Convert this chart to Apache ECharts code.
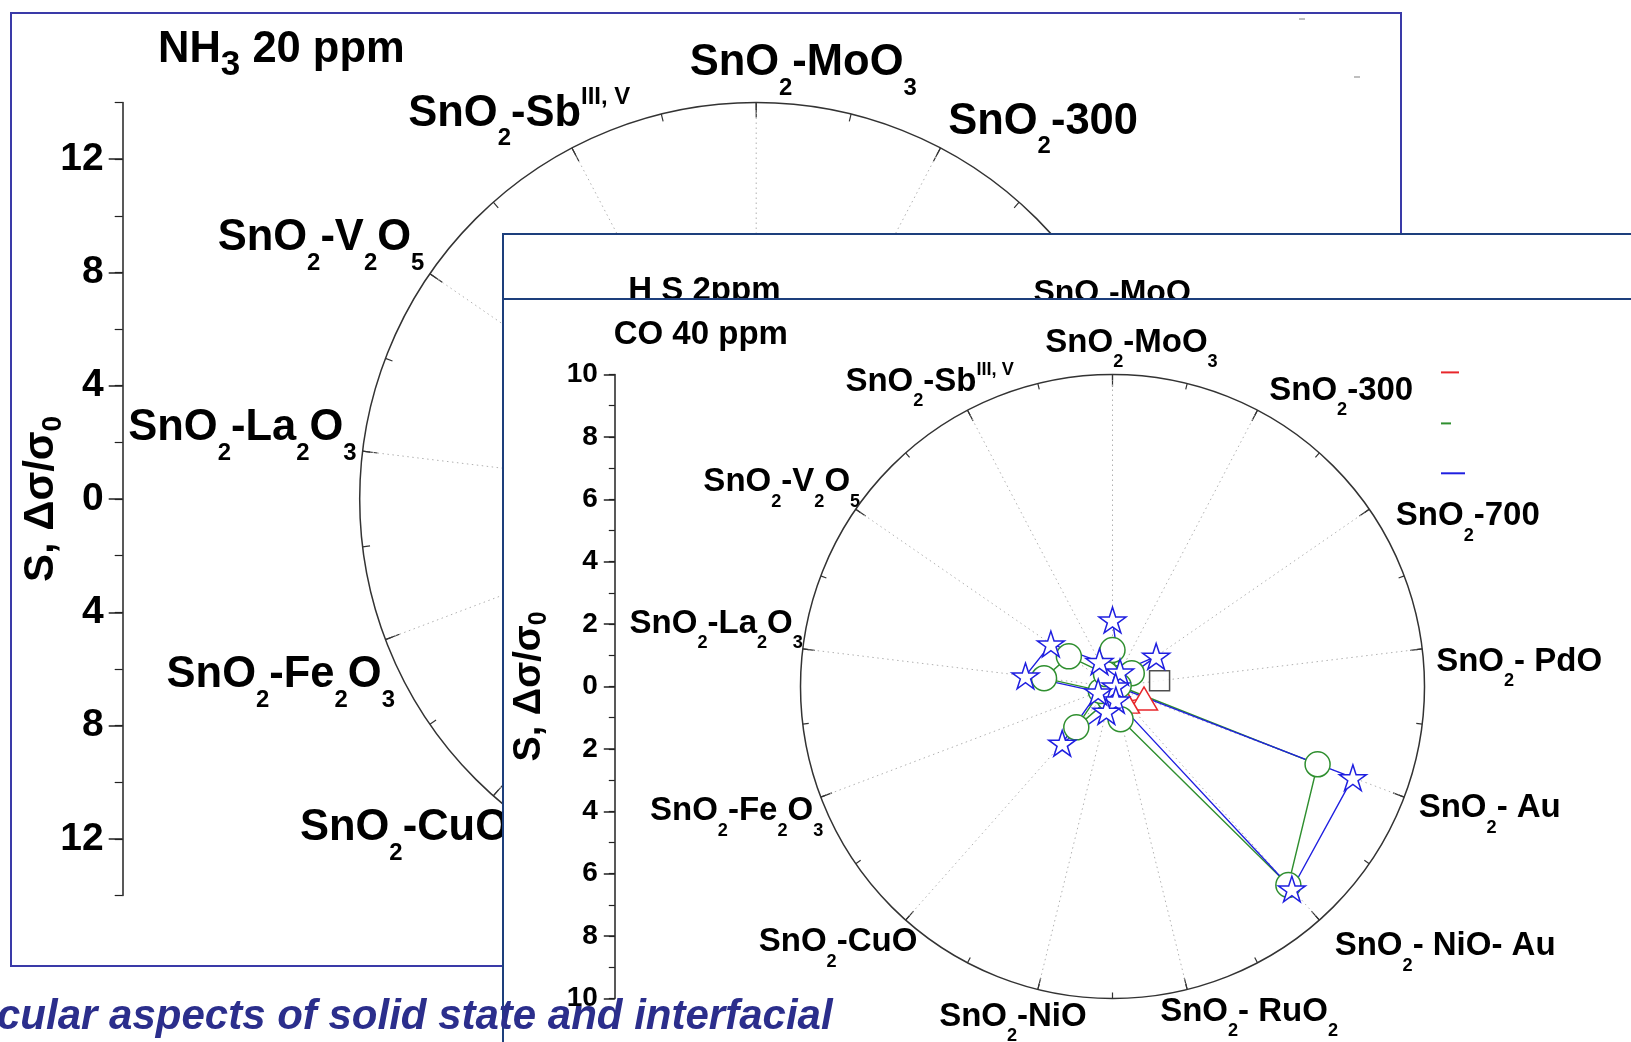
<!DOCTYPE html>
<html>
<head>
<meta charset="utf-8">
<title>SnO2 sensor response</title>
<script src="https://cdn.jsdelivr.net/npm/echarts@6.0.0/dist/echarts.min.js"></script>
<style>
  html, body { margin: 0; padding: 0; background: #fff; }
  body { position: relative; width: 1631px; height: 1042px; overflow: hidden; }
  .panel { position: absolute; background: #fff; }
  .frame { position: absolute; box-sizing: border-box; pointer-events: none; }
  #caption { position: absolute; left: -3px; top: 994px; margin: 0; white-space: nowrap;
    font: italic bold 42px/42px 'Liberation Sans', Arial, sans-serif; color: #2b2e8c; }
</style>
</head>
<body>
<div id="nh3" class="panel" style="left:10px;top:12px;width:1391px;height:954px"></div>
<div class="frame" style="left:10px;top:12px;width:1392px;height:955px;border:2px solid #3a3aa8"></div>
<div id="h2s" class="panel" style="left:502px;top:233px;width:1140px;height:820px"></div>
<div class="frame" style="left:502px;top:233px;width:1140px;height:820px;border:2px solid #1d3f7c"></div>
<div id="co" class="panel" style="left:502px;top:298px;width:1140px;height:760px"></div>
<div class="frame" style="left:502px;top:298px;width:1140px;height:760px;border:2px solid #1d3f7c"></div>
<div id="caption">cular aspects of solid state and interfacial</div>

<script>
const FONT = "'Liberation Sans', Arial, Helvetica, sans-serif";
const RED = '#e8262b', GREEN = '#2f8f2f', BLUE = '#1f1fe0', BLACK = '#222';

// Sample categories, clockwise from the top. "_x" marks a subscript, "^{..}" a superscript.
const categories = ['SnO_2-MoO_3', 'SnO_2-300', 'SnO_2-700', 'SnO_2-PdO', 'SnO_2-Au', 'SnO_2-NiO-Au',
  'SnO_2-RuO_2', 'SnO_2-NiO', 'SnO_2-CuO', 'SnO_2-Fe_2O_3', 'SnO_2-La_2O_3', 'SnO_2-V_2O_5', 'SnO_2-Sb^{III, V}'];
const coCategories = ['SnO_2-MoO_3', 'SnO_2-300', 'SnO_2-700', 'SnO_2- PdO', 'SnO_2- Au', 'SnO_2- NiO- Au',
  'SnO_2- RuO_2', 'SnO_2-NiO', 'SnO_2-CuO', 'SnO_2-Fe_2O_3', 'SnO_2-La_2O_3', 'SnO_2-V_2O_5', 'SnO_2-Sb^{III, V}'];

// CO 40 ppm: sensor response S = Δσ/σ0 for each sample (null = not measured)
const coSeriesNames = ['Series A', 'Series B', 'Series C', 'Series D'];
const coBlack = [null, null, null, 1.52, null, null, null, null, null, null, null, null, null];
const coRed   = [null, null, null, null, 1.08, 0.65, null, null, null, null, null, null, null];
const coGreen = [1.17, 0.30, 0.75, 0.20, 7.03, 8.50, 1.08, 0.40, 1.75, 0.40, 2.21, 1.70, 0.45];
const coBlue  = [2.13, 0.52, 1.70, 0.10, 8.24, 8.67, 0.45, 0.82, 2.43, 0.49, 2.81, 2.40, 0.90];

// Radial scales and tick labels of the S axes
const nh3Max = 14;
const nh3TickValues = [-12, -8, -4, 0, 4, 8, 12];
const coMax = 10;
const h2sMax = 10;

const STAR = 'path://M0,-10L2.245,-3.09L9.511,-3.09L3.633,1.18L5.878,8.09L0,3.82L-5.878,8.09L-3.633,1.18L-9.511,-3.09L-2.245,-3.09Z';

// Turn the "_x" / "^{..}" markup into ECharts rich-text tokens
function toRich(label) {
  let out = '', buf = '';
  const flush = () => { if (buf) { out += '{m|' + buf + '}'; buf = ''; } };
  for (let i = 0; i < label.length; i++) {
    const ch = label[i];
    if (ch === '_') { flush(); out += '{s|' + label[i + 1] + '}'; i++; }
    else if (ch === '^' && label[i + 1] === '{') {
      const j = label.indexOf('}', i);
      flush(); out += '{p|' + label.slice(i + 2, j) + '}'; i = j;
    }
    else buf += ch;
  }
  flush();
  return out;
}

// Rich styles: main text, subscript dropped by `drop`, superscript raised by `rise`
function scriptStyles(F, sub, drop, rise) {
  const L = 2 * (drop + sub / 2);
  const base = { fontFamily: FONT, fontWeight: 'bold', color: '#000' };
  return {
    m: Object.assign({}, base, { fontSize: F, lineHeight: L }),
    s: Object.assign({}, base, { fontSize: sub, height: sub, lineHeight: sub, verticalAlign: 'bottom' }),
    p: Object.assign({}, base, { fontSize: sub, height: sub, lineHeight: sub, verticalAlign: 'top',
      padding: [Math.max(0, L / 2 - rise - sub / 2), 0, 0, 0] })
  };
}

// Shift a label by [dx, dy] pixels through its padding box
function shift(n) { return [n[1], -n[0], -n[1], n[0]]; }

function pairs(vals) {
  return vals.map((v, i) => (v == null ? null : [v, i])).filter(Boolean);
}

// Polar frame: circle, inward ticks, dotted spokes and sample labels
function polarBlock(p) {
  const rich = scriptStyles(p.font, p.font * 0.55, 0.583 * p.font, 0.369 * p.font);
  const tickStyle = { color: '#333', width: 1.2 };
  return {
    polar: [{ center: p.center, radius: p.radius }, { center: p.center, radius: p.radius }],
    angleAxis: [{
      polarIndex: 0, type: 'category', boundaryGap: false, startAngle: 90, clockwise: true,
      data: p.cats.map((c, i) => ({ value: c, textStyle: { padding: shift(p.nudges[i]) } })),
      axisLine: { show: false },
      axisTick: { show: true, inside: true, interval: 0, length: p.tick, lineStyle: tickStyle },
      axisLabel: { show: true, interval: 0, margin: 8, color: '#000', formatter: v => toRich(v), rich: rich },
      splitLine: { show: true, interval: 0, lineStyle: { color: '#b0b0b0', width: 1, type: [1.5, 3.5] } },
      splitArea: { show: false }
    }, {
      // full circle with the half-step ticks between samples
      polarIndex: 1, type: 'value', min: 0, max: p.cats.length * 2, interval: 1, startAngle: 90, clockwise: true,
      axisLine: { show: true, lineStyle: { color: '#333', width: 1.5 } },
      axisLabel: { show: false }, splitLine: { show: false },
      axisTick: { show: true, inside: true, length: p.tick / 2, lineStyle: tickStyle }
    }],
    radiusAxis: [
      { polarIndex: 0, type: 'value', min: 0, max: p.rMax, show: false, splitLine: { show: false } },
      { polarIndex: 1, type: 'value', min: 0, max: 1, show: false, splitLine: { show: false } }
    ]
  };
}

// Vertical S axis drawn beside the polar frame
function sideAxis(p) {
  return {
    grid: { left: p.left, top: p.top, height: p.height, width: 10, containLabel: false, outerBoundsMode: 'none' },
    xAxis: { type: 'value', show: false, min: 0, max: 1 },
    yAxis: [{
      type: 'value', position: 'left', min: -p.max, max: p.max, interval: p.step,
      axisLine: { show: true, onZero: false, lineStyle: { color: '#222', width: 1.5 } },
      axisTick: { show: true, length: p.majorLen, customValues: p.majorValues, lineStyle: { color: '#222', width: 1.5 } },
      axisLabel: { show: true, margin: p.labelMargin, customValues: p.majorValues, showMinLabel: true, showMaxLabel: true,
        color: '#000', fontFamily: FONT, fontWeight: 'bold', fontSize: p.labelSize,
        formatter: v => (v % p.labelEvery === 0 ? String(Math.abs(v)) : '') },
      splitLine: { show: false },
      name: '{m|S, Δσ/σ}{s|0}', nameLocation: 'middle', nameGap: p.nameGap, nameMoveOverlap: false,
      nameTextStyle: { rich: p.nameStyles }
    }, {
      type: 'value', position: 'left', min: -p.max, max: p.max, interval: p.minorStep,
      axisLine: { show: false }, axisLabel: { show: false }, splitLine: { show: false },
      axisTick: { show: true, length: p.minorLen, lineStyle: { color: '#222', width: 1.2 } }
    }]
  };
}

function lineSeries(name, vals, color, symbol, size) {
  return {
    type: 'line', name: name, coordinateSystem: 'polar', polarIndex: 0, data: pairs(vals),
    symbol: symbol, symbolSize: size, symbolKeepAspect: true, showSymbol: true, showAllSymbol: true,
    lineStyle: { color: color, width: 1.4 },
    itemStyle: { color: '#fff', borderColor: color, borderWidth: 1.5 },
    emphasis: { disabled: true }, silent: true
  };
}

function dashLegend(name, color, left, top, width) {
  return {
    data: [{ name: name, itemStyle: { color: color, borderWidth: 0 } }],
    left: left, top: top, padding: 0, icon: 'rect', itemWidth: width, itemHeight: 2,
    selectedMode: false, formatter: () => '', textStyle: { fontSize: 2 }
  };
}

/* ---------- NH3 20 ppm ---------- */
const nh3Nudge = [[47, 6], [4, 18], [20, 60], [0, 0], [0, 0], [0, 0], [0, 0], [0, 0],
  [21, -11], [17, -5], [2, -22], [1, 6], [62, 10]];
const nh3Chart = echarts.init(document.getElementById('nh3'));
nh3Chart.setOption(Object.assign({
  animation: false,
  textStyle: { fontFamily: FONT, fontWeight: 'bold' },
  title: {
    text: '{m|NH}{s|3}{m| 20 ppm}', left: 148, top: 5, padding: 0,
    textStyle: { rich: scriptStyles(43.5, 35, 15.5, 0) }
  },
  graphic: [
    { type: 'line', shape: { x1: 1289, y1: 7, x2: 1295, y2: 7 }, style: { stroke: '#aaa', lineWidth: 1.5 } },
    { type: 'line', shape: { x1: 1344, y1: 65, x2: 1350, y2: 65 }, style: { stroke: '#aaa', lineWidth: 1.5 } }
  ],
  series: []
}, polarBlock({ center: [746.2, 487], radius: 396.5, rMax: nh3Max, cats: categories, font: 43.5, nudges: nh3Nudge, tick: 15 }),
   sideAxis({ left: 112.7, top: 90.5, height: 793, max: nh3Max, step: 2, minorStep: 2, majorValues: nh3TickValues,
     labelEvery: 4, labelSize: 39, labelMargin: 19, majorLen: 14, minorLen: 8, nameGap: 55,
     nameStyles: scriptStyles(42, 28, 12, 0) })));

/* ---------- H2S 2 ppm ---------- */
const h2sNudge = categories.map((c, i) => (i === 0 ? [3, -4] : [0, 0]));
const h2sChart = echarts.init(document.getElementById('h2s'));
h2sChart.setOption(Object.assign({
  animation: false,
  textStyle: { fontFamily: FONT, fontWeight: 'bold' },
  title: {
    text: '{m|H}{s|2}{m|S 2ppm}', left: 126.3, top: 31, padding: 0,
    textStyle: { rich: scriptStyles(33, 16.5, 19, 0) }
  },
  series: []
}, polarBlock({ center: [612, 400], radius: 300, rMax: h2sMax, cats: categories, font: 32, nudges: h2sNudge, tick: 12 })));

/* ---------- CO 40 ppm ---------- */
const coNudge = [[19, 5], [8, 16], [20, 40], [6, 14], [7, -20], [10, -8], [60, -14],
  [-23, -9], [17, -12], [10, -17], [8, -24], [11, 6], [50, 7]];
const coChart = echarts.init(document.getElementById('co'));
coChart.setOption(Object.assign({
  animation: false,
  textStyle: { fontFamily: FONT, fontWeight: 'bold' },
  title: {
    text: '{m|CO 40 ppm}', left: 111.7, top: 20.5, padding: 0,
    textStyle: { rich: { m: { fontFamily: FONT, fontWeight: 'bold', fontSize: 33, lineHeight: 33, color: '#000' } } }
  },
  legend: [
    dashLegend(coSeriesNames[1], RED, 939, 73.4, 18),
    dashLegend(coSeriesNames[2], GREEN, 939, 124.4, 10),
    dashLegend(coSeriesNames[3], BLUE, 939, 174.3, 24)
  ],
  series: [
    { type: 'scatter', name: coSeriesNames[0], coordinateSystem: 'polar', polarIndex: 0, data: pairs(coBlack),
      symbol: 'rect', symbolSize: 20, itemStyle: { color: '#fff', borderColor: BLACK, borderWidth: 1.5 },
      emphasis: { disabled: true }, silent: true },
    lineSeries(coSeriesNames[1], coRed, RED, 'triangle', [27, 23]),
    lineSeries(coSeriesNames[2], coGreen, GREEN, 'circle', 25),
    lineSeries(coSeriesNames[3], coBlue, BLUE, STAR, 27)
  ]
}, polarBlock({ center: [610.5, 388.5], radius: 312, rMax: coMax, cats: coCategories, font: 33, nudges: coNudge, tick: 12 }),
   sideAxis({ left: 112.8, top: 76.5, height: 624, max: coMax, step: 2, minorStep: 1, majorValues: undefined,
     labelEvery: 2, labelSize: 28, labelMargin: 17, majorLen: 11, minorLen: 6, nameGap: 63,
     nameStyles: scriptStyles(38, 25, 10, 0) })));
</script>
</body>
</html>
